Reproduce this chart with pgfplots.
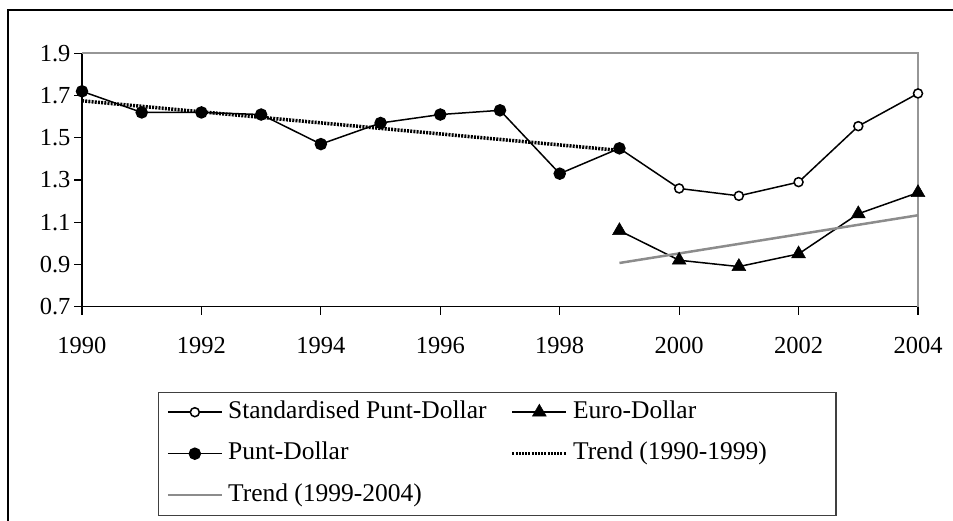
\documentclass[border=0pt]{standalone}
\usepackage{pgfplots}
\pgfplotsset{compat=1.18}
\usepackage{fontspec}
\setmainfont{Liberation Serif}
\definecolor{trendgray}{RGB}{140,140,140}
\definecolor{framegray}{RGB}{150,150,150}
\begin{document}
\begin{tikzpicture}
\useasboundingbox (0,0) rectangle (953pt,520pt);
\draw[line width=1.5pt] (8pt,-30pt) -- (8pt,510pt) -- (990pt,510pt);
\begin{axis}[
  at={(82pt,213.3pt)}, anchor=south west,
  scale only axis, width=836pt, height=253.4pt,
  xmin=1990, xmax=2004, ymin=0.7, ymax=1.9,
  axis x line*=bottom, axis y line*=left,
  axis line style={line width=1.3pt, black, -},
  every outer x axis line/.append style={-},
  every outer y axis line/.append style={-},
  xtick={1990,1992,1994,1996,1998,2000,2002,2004},
  ytick={0.7,0.9,1.1,1.3,1.5,1.7,1.9},
  tick align=outside, major tick length=8pt,
  tick style={line width=1.2pt, black},
  x tick label style={/pgf/number format/1000 sep={}, yshift=-19pt},
  y tick label style={/pgf/number format/.cd, fixed, fixed zerofill, precision=1},
  /pgf/number format/assume math mode=true,
  ticklabel style={font=\fontsize{24.5}{29}\selectfont},
  clip=false,
  legend image code/.code={\draw[mark repeat=2,mark phase=2,#1] plot coordinates {(0pt,0pt) (27pt,0pt) (54pt,0pt)};},
  legend columns=2,
  legend cell align=left,
  legend style={at={(axis description cs:0.0909,-0.335)}, anchor=north west,
    draw=black!75, line width=1.2pt, inner xsep=8pt, inner ysep=7pt,
    font=\fontsize{25.5}{30}\selectfont, row sep=15.5pt,
    nodes={inner xsep=5pt, inner ysep=2pt, text height=17pt, text depth=5pt},
    /tikz/every even column/.append style={column sep=19pt}},
]
\draw[framegray, line width=1.6pt] (rel axis cs:0,1) -- (rel axis cs:1,1) -- (rel axis cs:1,0);
\addplot[black, line width=1.5pt, mark=*, mark size=4.5pt, mark options={fill=white, line width=1.5pt, solid}]
  coordinates {(1999,1.45) (2000,1.26) (2001,1.225) (2002,1.29) (2003,1.555) (2004,1.71)};
\addlegendentry{Standardised Punt-Dollar}
\addplot[black, line width=1.5pt, mark=triangle*, mark size=8pt, mark options={solid, line width=0.5pt}]
  coordinates {(1999,1.06) (2000,0.92) (2001,0.89) (2002,0.95) (2003,1.14) (2004,1.24)};
\addlegendentry{Euro-Dollar}
\addplot[black, line width=1.5pt, mark=*, mark size=5.5pt, mark options={solid}]
  coordinates {(1990,1.72) (1991,1.62) (1992,1.62) (1993,1.61) (1994,1.47) (1995,1.57) (1996,1.61) (1997,1.63) (1998,1.33) (1999,1.45)};
\addlegendentry{Punt-Dollar}
\addplot[black, line width=3.5pt, dash pattern=on 2pt off 1.2pt]
  coordinates {(1990,1.675) (1999,1.44)};
\addlegendentry{\makebox[250pt][l]{Trend (1990-1999)}}
\addplot[trendgray, line width=2.5pt]
  coordinates {(1999,0.907) (2004,1.133)};
\addlegendentry{Trend (1999-2004)}
\end{axis}
\end{tikzpicture}
\end{document}
